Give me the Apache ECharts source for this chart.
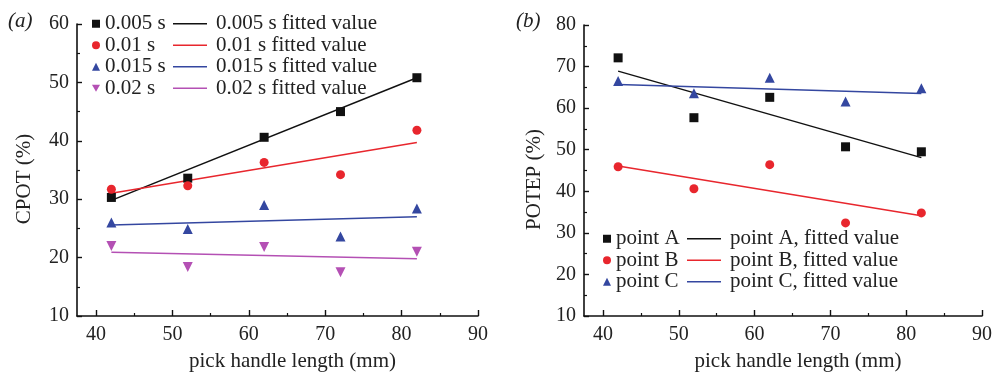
<!DOCTYPE html>
<html>
<head>
<meta charset="utf-8">
<script src="https://cdn.jsdelivr.net/npm/echarts@6/dist/echarts.min.js"></script>
<style>
  html, body { margin: 0; padding: 0; background: #fff; }
  #chart { width: 996px; height: 373px; }
</style>
</head>
<body>
<div id="chart"></div>
<script>
// pick handle lengths (mm)
const lengths = [42, 52, 62, 72, 82];
const fitEnds = [42, 82];

// (a) CPOT (%) for each time step
const cpotNames = ["0.005 s", "0.01 s", "0.015 s", "0.02 s"];
const cpot005 = [30.3, 33.6, 40.6, 45.0, 50.8];
const cpot010 = [31.7, 32.3, 36.3, 34.2, 41.8];
const cpot015 = [26.0, 24.9, 29.0, 23.6, 28.4];
const cpot020 = [22.0, 18.4, 21.8, 17.5, 21.0];
// fitted line values at 42 and 82 mm
const cpotFit005 = [29.8, 50.8];
const cpotFit010 = [31.0, 39.7];
const cpotFit015 = [25.6, 27.0];
const cpotFit020 = [20.9, 19.8];

// (b) POTEP (%) for each point
const potepNames = ["point A", "point B", "point C"];
const potepA = [72.1, 57.7, 62.6, 50.7, 49.5];
const potepB = [45.9, 40.6, 46.4, 32.4, 34.8];
const potepC = [66.5, 63.6, 67.3, 61.6, 64.8];
const potepFitA = [68.9, 48.1];
const potepFitB = [46.1, 34.1];
const potepFitC = [65.7, 63.5];

const xMajor = [40, 50, 60, 70, 80, 90];
const xMinor = [45, 55, 65, 75, 85];

const FONT = "Liberation Serif";
const BLACK = "#111";
const RED = "#e8262d";
const BLUE = "#3447a0";
const MAGENTA = "#b450b4";

const toPairs = (xs, ys) => xs.map((x, i) => [x, ys[i]]);

const makeXAxes = (gridIndex) => [
    {
        gridIndex,
        type: "value",
        min: 37.5,
        max: 90,
        name: "pick handle length (mm)",
        nameLocation: "middle",
        nameGap: 35,
        nameTextStyle: { fontFamily: FONT, fontSize: 21, color: "#222", padding: [0, 0, 0, 30] },
        axisLine: { lineStyle: { color: BLACK, width: 1.6 } },
        axisTick: { inside: true, length: 6, customValues: xMajor, lineStyle: { color: BLACK, width: 1.4 } },
        axisLabel: { customValues: xMajor, margin: 9, fontFamily: FONT, fontSize: 20, color: "#222" },
        splitLine: { show: false },
    },
    {
        gridIndex,
        type: "value",
        min: 37.5,
        max: 90,
        position: "bottom",
        axisLine: { show: false },
        axisTick: { inside: true, length: 3, customValues: xMinor, lineStyle: { color: BLACK, width: 1.2 } },
        axisLabel: { show: false, customValues: xMinor },
        splitLine: { show: false },
    },
];

const makeYAxis = (gridIndex, name, max, gap) => ({
    gridIndex,
    type: "value",
    min: 10,
    max,
    interval: 10,
    name,
    nameLocation: "middle",
    nameGap: gap,
    nameRotate: 90,
    nameTextStyle: { fontFamily: FONT, fontSize: 21, color: "#222", padding: [0, 18, 0, 0] },
    axisLine: { show: true, lineStyle: { color: BLACK, width: 1.6 } },
    axisTick: { show: true, inside: true, length: 5, lineStyle: { color: BLACK, width: 1.4 } },
    minorTick: { show: true, splitNumber: 2, length: 3, lineStyle: { color: BLACK, width: 1.2 } },
    axisLabel: { margin: 8, fontFamily: FONT, fontSize: 20, color: "#222" },
    splitLine: { show: false },
});

const scatter = (name, ys, color, symbol, size, axis) => ({
    name,
    type: "scatter",
    xAxisIndex: axis * 2,
    yAxisIndex: axis,
    symbol,
    symbolSize: size,
    itemStyle: { color, opacity: 1 },
    data: toPairs(lengths, ys),
    z: 3,
});

const fitLine = (name, ys, color, axis) => ({
    name,
    type: "line",
    xAxisIndex: axis * 2,
    yAxisIndex: axis,
    symbol: "none",
    lineStyle: { color, width: 1.5 },
    itemStyle: { color },
    data: toPairs(fitEnds, ys),
    z: 2,
});

const legendText = { fontFamily: FONT, fontSize: 21, color: "#222", lineHeight: 21.5 };

const markerLegend = (left, top, names) => ({
    left,
    top,
    orient: "vertical",
    padding: 0,
    itemGap: 0,
    itemWidth: 8,
    itemHeight: 8,
    selectedMode: false,
    textStyle: legendText,
    data: names,
});

const lineLegend = (left, top, names) => ({
    left,
    top,
    orient: "vertical",
    padding: 0,
    itemGap: 0,
    icon: "rect",
    itemWidth: 34,
    itemHeight: 1.6,
    selectedMode: false,
    textStyle: { ...legendText, padding: [0, 0, 0, 4] },
    data: names,
});

const cpotFitNames = cpotNames.map((n) => n + " fitted value");
const potepFitNames = potepNames.map((n) => n + ", fitted value");

const chart = echarts.init(document.getElementById("chart"), null, { renderer: "canvas" });

chart.setOption({
    backgroundColor: "#fff",
    animation: false,
    grid: [
        { left: 77, top: 24, width: 401, height: 292, outerBoundsMode: "none", containLabel: false },
        { left: 584, top: 25, width: 398, height: 291, outerBoundsMode: "none", containLabel: false },
    ],
    xAxis: [...makeXAxes(0), ...makeXAxes(1)],
    yAxis: [makeYAxis(0, "CPOT (%)", 60, 42), makeYAxis(1, "POTEP (%)", 80, 39)],
    legend: [
        markerLegend(92, 13, cpotNames),
        lineLegend(173, 13, cpotFitNames),
        markerLegend(603, 228, potepNames),
        lineLegend(687, 228, potepFitNames),
    ],
    graphic: [
        { type: "text", left: 8, top: 11, style: { text: "(a)", font: "italic 21px " + FONT, fill: "#222" } },
        { type: "text", left: 516, top: 11, style: { text: "(b)", font: "italic 21px " + FONT, fill: "#222" } },
    ],
    series: [
        scatter(cpotNames[0], cpot005, BLACK, "rect", 9, 0),
        scatter(cpotNames[1], cpot010, RED, "circle", 9, 0),
        scatter(cpotNames[2], cpot015, BLUE, "triangle", 10, 0),
        scatter(cpotNames[3], cpot020, MAGENTA, "path://M0,0L10,0L5,9Z", 10, 0),
        fitLine(cpotFitNames[0], cpotFit005, BLACK, 0),
        fitLine(cpotFitNames[1], cpotFit010, RED, 0),
        fitLine(cpotFitNames[2], cpotFit015, BLUE, 0),
        fitLine(cpotFitNames[3], cpotFit020, MAGENTA, 0),
        scatter(potepNames[0], potepA, BLACK, "rect", 9, 1),
        scatter(potepNames[1], potepB, RED, "circle", 9, 1),
        scatter(potepNames[2], potepC, BLUE, "triangle", 10, 1),
        fitLine(potepFitNames[0], potepFitA, BLACK, 1),
        fitLine(potepFitNames[1], potepFitB, RED, 1),
        fitLine(potepFitNames[2], potepFitC, BLUE, 1),
    ],
});
</script>
</body>
</html>
